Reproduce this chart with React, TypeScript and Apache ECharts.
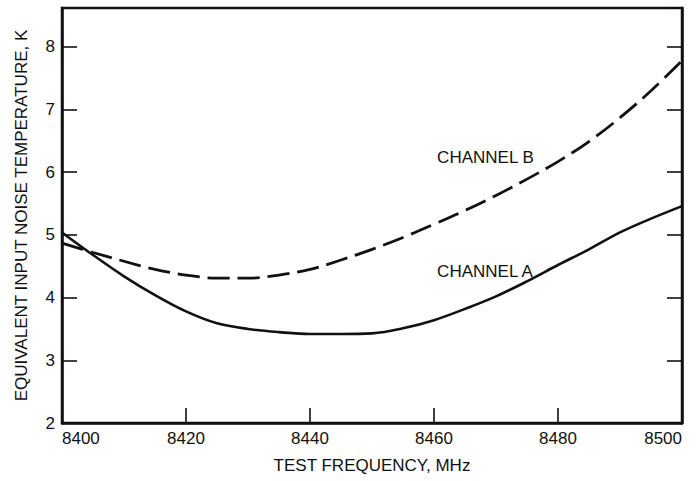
import React, { useEffect, useRef } from "react";
import * as echarts from "echarts";

const freq = [8400, 8405, 8410, 8415, 8420, 8425, 8430, 8435, 8440, 8445, 8450, 8455, 8460, 8465, 8470, 8475, 8480, 8485, 8490, 8495, 8500];
const channelA = [5.04, 4.68, 4.34, 4.04, 3.78, 3.59, 3.5, 3.45, 3.42, 3.42, 3.43, 3.51, 3.64, 3.82, 4.02, 4.26, 4.52, 4.77, 5.04, 5.26, 5.46];
const channelB = [4.87, 4.72, 4.58, 4.45, 4.36, 4.31, 4.31, 4.36, 4.45, 4.6, 4.77, 4.96, 5.17, 5.39, 5.63, 5.89, 6.17, 6.49, 6.87, 7.3, 7.78];

const labelNames = ["CHANNEL B", "CHANNEL A"];
const labelAnchors = [[8460.5, 6.23], [8460.5, 4.42]];

const xTitle = "TEST FREQUENCY, MHz";
const yTitle = "EQUIVALENT INPUT NOISE TEMPERATURE, K";

const INK = "#111";
const FONT = "'Liberation Sans', Arial, Helvetica, sans-serif";

export default function App() {
  const ref = useRef<HTMLDivElement>(null);
  useEffect(() => {
    if (!ref.current) return;
    const chart = echarts.init(ref.current, undefined, { renderer: "svg" });
    const yCommon = {
      type: "value",
      min: 2,
      max: 8.62,
      interval: 1,
      splitLine: { show: false },
      axisLine: { show: true, lineStyle: { color: INK, width: 2.5 } },
      axisTick: { show: true, inside: true, length: 15, lineStyle: { color: INK, width: 1.6 } },
    };
    chart.setOption({
      animation: false,
      backgroundColor: "#fff",
      textStyle: { fontFamily: FONT },
      grid: {
        left: 62, right: 17, top: 8, bottom: 58,
        show: true, borderColor: INK, borderWidth: 2.5, backgroundColor: "transparent",
      },
      xAxis: {
        type: "value",
        min: 8400,
        max: 8500,
        interval: 20,
        name: xTitle,
        nameLocation: "middle",
        nameGap: 34,
        nameTextStyle: { color: INK, fontSize: 17, fontFamily: FONT },
        splitLine: { show: false },
        axisLine: { show: true, lineStyle: { color: INK, width: 2.5 } },
        axisTick: { show: true, inside: true, length: 15, lineStyle: { color: INK, width: 1.6 } },
        axisLabel: {
          color: INK, fontSize: 17, margin: 7, fontFamily: FONT,
          alignMinLabel: "left", alignMaxLabel: "right",
          formatter: (v: number) => String(v),
        },
      },
      yAxis: [
        {
          ...yCommon,
          position: "left",
          name: yTitle,
          nameLocation: "middle",
          nameRotate: 90,
          nameGap: 32,
          nameTextStyle: { color: INK, fontSize: 17, fontFamily: FONT },
          axisLabel: { color: INK, fontSize: 17, margin: 7, fontFamily: FONT, showMaxLabel: false },
        },
        {
          ...yCommon,
          position: "right",
          axisLabel: { show: false },
        },
      ],
      series: [
        {
          name: "CHANNEL A",
          type: "line",
          smooth: 0.35,
          symbol: "none",
          lineStyle: { color: INK, width: 2.6 },
          data: freq.map((f, i) => [f, channelA[i]]),
        },
        {
          name: "CHANNEL B",
          type: "line",
          smooth: 0.35,
          symbol: "none",
          lineStyle: { color: INK, width: 2.8, type: [22, 8] },
          data: freq.map((f, i) => [f, channelB[i]]),
        },
      ],
    });
    const graphics = labelNames.map((name, i) => {
      const p = chart.convertToPixel({ gridIndex: 0 }, labelAnchors[i]) as number[];
      return {
        type: "text",
        x: p[0],
        y: p[1],
        style: {
          text: name,
          fill: INK,
          font: `17px ${FONT}`,
          textAlign: "left",
          textVerticalAlign: "middle",
        },
      };
    });
    chart.setOption({ graphic: graphics });
    return () => chart.dispose();
  }, []);
  return (
    <div
      ref={ref}
      style={{ position: "fixed", left: 0, top: 0, width: 699, height: 481 }}
    />
  );
}
